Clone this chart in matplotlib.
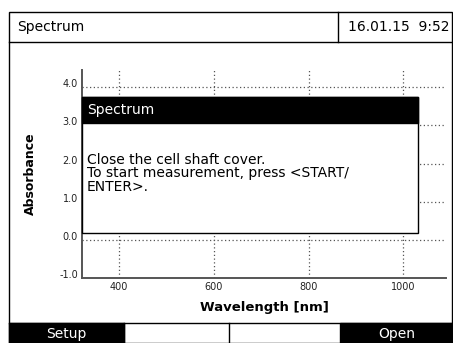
import matplotlib.pyplot as plt
from matplotlib.patches import Rectangle
from matplotlib.lines import Line2D

W, H = 453, 343

# chart content
x_ticks = [400, 600, 800, 1000]
y_ticks = [-1.0, 0.0, 1.0, 2.0, 3.0, 4.0]
x_lim = (322, 1090)
y_lim = (-1.0, 4.45)
header_title = 'Spectrum'
header_date = '16.01.15  9:52'
dialog_title = 'Spectrum'
dialog_lines = ['Close the cell shaft cover.',
                'To start measurement, press <START/',
                'ENTER>.']
buttons = ['Setup', '', '', 'Open']
button_edges = [9, 124, 229, 340, 453]


def fx(x):
    return x / W


def fy(y):
    return 1 - y / H


plt.rcParams['font.family'] = ['DejaVu Sans']
fig = plt.figure(figsize=(W / 100, H / 100), dpi=100)

# plot area
ax = fig.add_axes([fx(82), fy(278), fx(446) - fx(82), fy(70) - fy(278)])
ax.set_xlim(*x_lim)
ax.set_ylim(*y_lim)
ax.set_xticks(x_ticks)
ax.set_yticks(y_ticks)
ax.set_yticklabels(['%.1f' % v for v in y_ticks])
for lbl in ax.get_yticklabels():
    lbl.set_va('baseline')
ax.tick_params(length=0, labelsize=7, pad=3, colors='#222222')
ax.spines['top'].set_visible(False)
ax.spines['right'].set_visible(False)
for s in ('left', 'bottom'):
    ax.spines[s].set_color('#555555')
    ax.spines[s].set_linewidth(1.4)
ax.grid(True, linestyle=(0, (1, 2)), color='#555555', linewidth=0.9)
ax.set_xlabel('Wavelength [nm]', fontsize=9.5, fontweight='bold', labelpad=6)
ax.set_ylabel('Absorbance', fontsize=9, fontweight='bold', labelpad=16)

# outer frame and header
fig.add_artist(Rectangle((fx(9), fy(343)), fx(452) - fx(9), fy(12) - fy(343),
                         transform=fig.transFigure, fill=False, edgecolor='black', lw=1))
fig.add_artist(Line2D([fx(9), fx(452)], [fy(42), fy(42)], transform=fig.transFigure,
                      color='black', lw=1))
fig.add_artist(Line2D([fx(338), fx(338)], [fy(12), fy(42)], transform=fig.transFigure,
                      color='black', lw=1))
fig.text(fx(17), fy(27), header_title, fontsize=10, va='center', ha='left')
fig.text(fx(449), fy(27), header_date, fontsize=10, va='center', ha='right')

# buttons
fig.add_artist(Line2D([fx(9), fx(452)], [fy(323), fy(323)], transform=fig.transFigure,
                      color='black', lw=1))
for i, label in enumerate(buttons):
    x0, x1 = button_edges[i], button_edges[i + 1]
    if label:
        fig.add_artist(Rectangle((fx(x0), fy(343)), fx(x1) - fx(x0), fy(323) - fy(343),
                                 transform=fig.transFigure, facecolor='black',
                                 edgecolor='black'))
        fig.text(fx((x0 + x1) / 2), fy(334), label, color='white', fontsize=10,
                 ha='center', va='center')
    else:
        fig.add_artist(Line2D([fx(x0), fx(x0)], [fy(323), fy(343)],
                              transform=fig.transFigure, color='black', lw=1))

# dialog
fig.add_artist(Rectangle((fx(82), fy(233)), fx(418) - fx(82), fy(97) - fy(233),
                         transform=fig.transFigure, facecolor='white', edgecolor='black',
                         lw=1, zorder=5))
fig.add_artist(Rectangle((fx(82), fy(123)), fx(418) - fx(82), fy(97) - fy(123),
                         transform=fig.transFigure, facecolor='black', edgecolor='black',
                         lw=1, zorder=6))
fig.text(fx(87), fy(110), dialog_title, color='white', fontsize=10, va='center',
         ha='left', zorder=7)
fig.text(fx(87), fy(153), '\n'.join(dialog_lines), color='black', fontsize=10,
         va='top', ha='left', linespacing=0.95, zorder=7)

fig.savefig('out.png', dpi=100)
